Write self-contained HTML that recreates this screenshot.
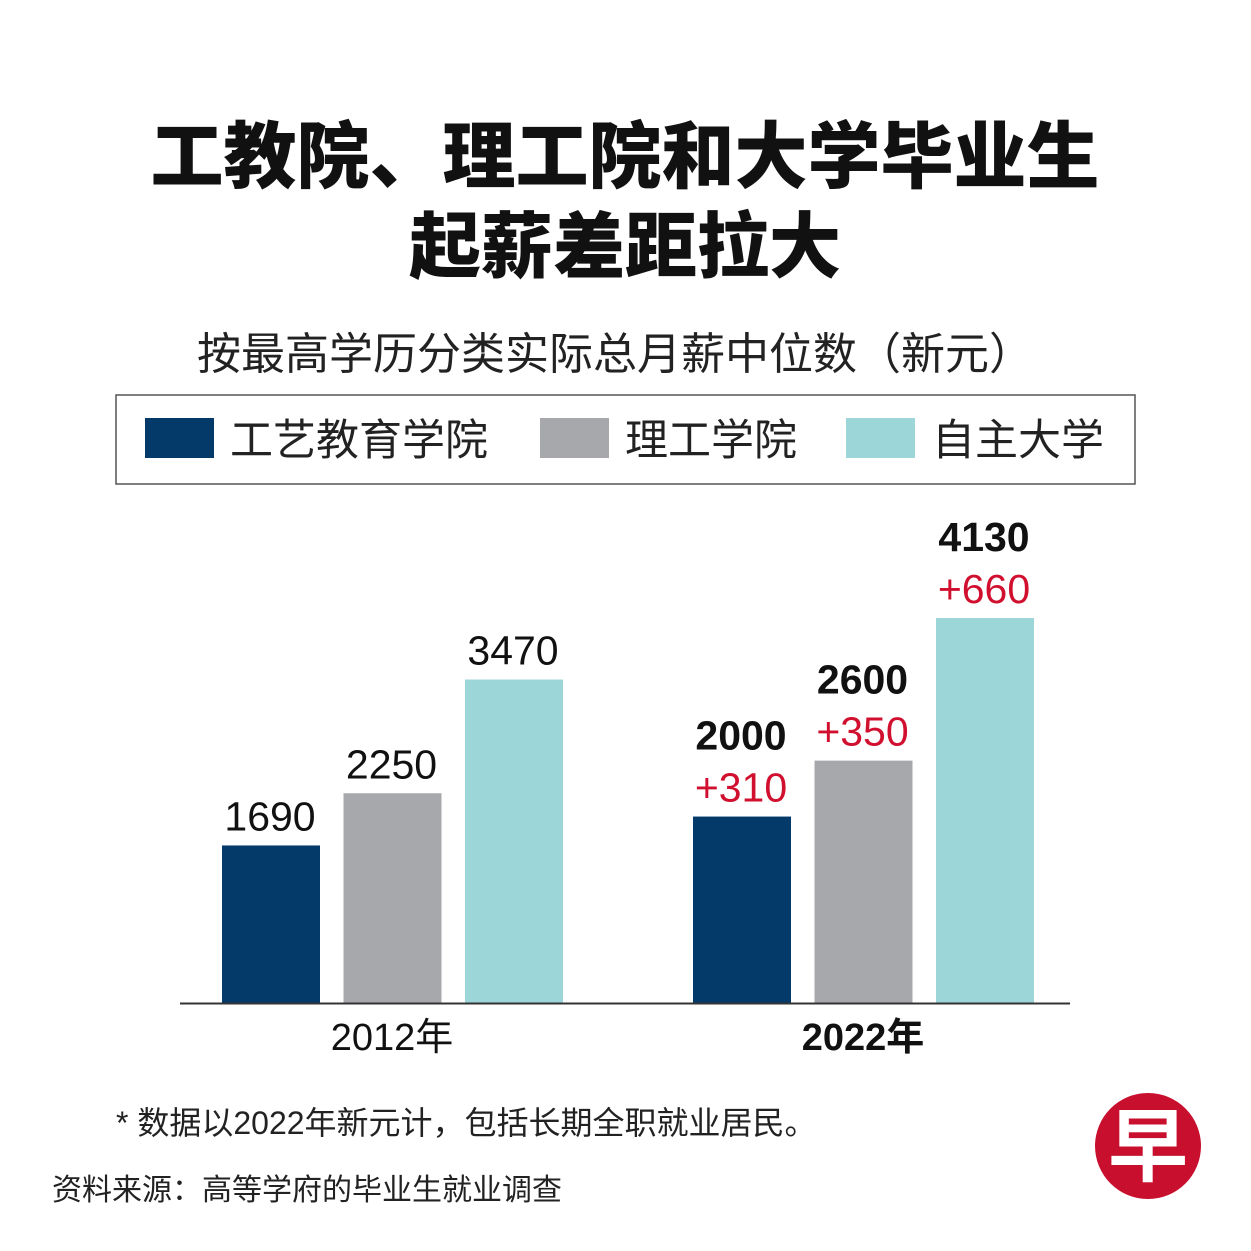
<!DOCTYPE html>
<html><head><meta charset="utf-8"><style>
body{margin:0;background:#fff;}
svg{display:block}
text{font-family:"Liberation Sans","Noto Sans CJK SC",sans-serif;}
</style></head><body>
<svg id="c" width="1251" height="1251" viewBox="0 0 1251 1251">
<rect width="1251" height="1251" fill="#fff"/>
<text x="625" y="182" text-anchor="middle" font-size="73" font-weight="900" fill="#111">工教院、理工院和大学毕业生</text>
<text x="625" y="272" text-anchor="middle" font-size="72" font-weight="900" fill="#111">起薪差距拉大</text>
<text x="615" y="369" text-anchor="middle" font-size="44" fill="#222">按最高学历分类实际总月薪中位数（新元）</text>
<g>
<rect x="116" y="395" width="1019" height="89" fill="none" stroke="#555" stroke-width="1.5"/>
<rect x="145" y="418" width="69" height="40" fill="#033a6a"/>
<text x="230" y="455" font-size="43" fill="#222">工艺教育学院</text>
<rect x="540" y="418" width="69" height="40" fill="#a7a8ab"/>
<text x="625" y="455" font-size="43" fill="#222">理工学院</text>
<rect x="846" y="418" width="69" height="40" fill="#9dd6d8"/>
<text x="932" y="455" font-size="43" fill="#222">自主大学</text>
</g>
<g id="bars"></g>
<line x1="180" y1="1003.5" x2="1070" y2="1003.5" stroke="#333" stroke-width="2"/>
<text x="392" y="1050" text-anchor="middle" font-size="38" fill="#111">2012年</text>
<text x="863" y="1050" text-anchor="middle" font-size="38" font-weight="bold" fill="#111">2022年</text>
<text x="116" y="1134" font-size="32" fill="#222">* 数据以2022年新元计，包括长期全职就业居民。</text>
<text x="52" y="1200" font-size="30" fill="#222">资料来源：高等学府的毕业生就业调查</text>
<g>
<circle cx="1148" cy="1146" r="53" fill="#c8102e"/>
<text x="1148" y="1175" text-anchor="middle" font-size="80" font-weight="bold" fill="#fff">早</text>
</g>
</svg>
<script>
const years = ["2012","2022"];
const ite = [1690, 2000];
const poly = [2250, 2600];
const uni = [3470, 4130];
const increases = [[null,null,null],[310,350,660]];
const colors = ["#033a6a","#a7a8ab","#9dd6d8"];
const names = ["ite","poly","uni"];
const baseY = 1003, scale = 385/4130;
const groupX = [222, 693], barW = 98, step = 121.5;
const y = v => baseY - v*scale;
const g = document.getElementById('bars');
const ns = "http://www.w3.org/2000/svg";
const series = [ite, poly, uni];
years.forEach((yr, gi) => {
  series.forEach((s, si) => {
    const v = s[gi];
    const x = groupX[gi] + si*step;
    const r = document.createElementNS(ns,'rect');
    r.setAttribute('x', x); r.setAttribute('y', y(v));
    r.setAttribute('width', barW); r.setAttribute('height', baseY - y(v));
    r.setAttribute('fill', colors[si]);
    
    
    g.appendChild(r);
    const inc = increases[gi][si];
    const t = document.createElementNS(ns,'text');
    t.setAttribute('x', x + barW/2 - 1);
    t.setAttribute('text-anchor','middle');
    t.setAttribute('font-size','41');
    t.setAttribute('fill','#111');
    if (inc !== null) { t.setAttribute('font-weight','bold'); t.setAttribute('y', y(v) - 67); }
    else t.setAttribute('y', y(v) - 15);
    t.textContent = v;
    
    
    g.appendChild(t);
    if (inc !== null) {
      const d = document.createElementNS(ns,'text');
      d.setAttribute('x', x + barW/2 - 1);
      d.setAttribute('y', y(v) - 15);
      d.setAttribute('text-anchor','middle');
      d.setAttribute('font-size','41');
      d.setAttribute('fill','#d0102e');
      d.textContent = '+' + inc;
      
      
      g.appendChild(d);
    }
  });
});
</script>
</body></html>
